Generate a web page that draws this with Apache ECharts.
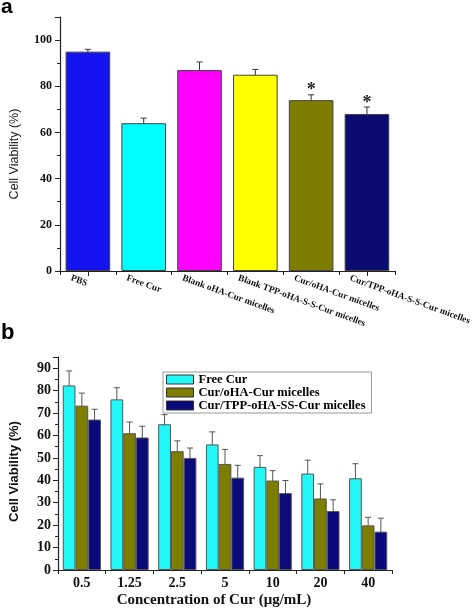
<!DOCTYPE html>
<html>
<head>
<meta charset="utf-8">
<script src="https://cdn.jsdelivr.net/npm/echarts@6/dist/echarts.min.js"></script>
<style>
html,body{margin:0;padding:0;background:#fff;}
#chart{width:472px;height:609px;}
</style>
</head>
<body>
<div id="chart"></div>
<script>
// ---- Panel a data ----
const catsA = ['PBS', 'Free Cur', 'Blank oHA-Cur micelles', 'Blank TPP-oHA-S-S-Cur micelles', 'Cur/oHA-Cur micelles', 'Cur/TPP-oHA-S-S-Cur micelles'];
const valsA = [95, 64, 87, 85, 74, 68];
const errA = [1.0, 2.2, 3.5, 2.3, 2.3, 3.0];
const sigA = ['', '', '', '', '*', '*'];
const ticksA = [0, 20, 40, 60, 80, 100];

// ---- Panel b data ----
const concB = ['0.5', '1.25', '2.5', '5', '10', '20', '40'];
const seriesNamesB = ['Free Cur', 'Cur/oHA-Cur micelles', 'Cur/TPP-oHA-SS-Cur micelles'];
const freeCur = [82.3, 76.1, 65.0, 56.0, 46.0, 43.0, 40.9];
const freeCurErr = [6.5, 5.2, 4.3, 5.6, 5.0, 6.0, 6.5];
const ohaCur = [73.3, 61.0, 53.0, 47.3, 39.9, 31.9, 19.9];
const ohaCurErr = [5.6, 5.0, 4.6, 6.5, 4.4, 6.5, 3.6];
const tppCur = [67.1, 59.1, 50.0, 41.2, 34.3, 26.3, 17.1];
const tppCurErr = [4.6, 5.0, 4.4, 5.5, 5.6, 5.0, 6.0];

// ---- styles ----
const paletteA = ['#1414f0', '#00ffff', '#ff00ff', '#ffff00', '#7d7d00', '#0a0a70'];
const paletteB = ['#22f8f8', '#7d7d00', '#0a0a7a'];
const SERIF = '"Liberation Serif", "Times New Roman", serif';
const SANS = '"Liberation Sans", Arial, sans-serif';

const chart = echarts.init(document.getElementById('chart'), null, {renderer: 'canvas'});

function errRender(k, nGroup, capW, color) {
  return function (params, api) {
    const i = api.value(0), m = api.value(1), e = api.value(2);
    const bw = api.size([1, 0])[0];
    const barW = bw * 0.8 / nGroup;
    const off = (k - (nGroup - 1) / 2) * barW;
    const c = api.coord([i, m]);
    const top = api.coord([i, m + e]);
    const bot = api.coord([i, m - e]);
    const x = c[0] + off;
    const st = {stroke: color, lineWidth: 1};
    const children = [
      {type: 'line', shape: {x1: x, y1: top[1], x2: x, y2: bot[1]}, style: st},
      {type: 'line', shape: {x1: x - capW / 2, y1: top[1], x2: x + capW / 2, y2: top[1]}, style: st},
      {type: 'line', shape: {x1: x - capW / 2, y1: bot[1], x2: x + capW / 2, y2: bot[1]}, style: st}
    ];
    return {type: 'group', children: children};
  };
}

const yAxisCommon = {
  type: 'value',
  splitLine: {show: false},
  axisLine: {show: true, lineStyle: {color: '#222', width: 1.2}},
  axisTick: {show: true, inside: false, length: 5, lineStyle: {color: '#222'}},
  minorTick: {show: true, splitNumber: 2, length: 3, lineStyle: {color: '#222'}},
  minorSplitLine: {show: false}
};

const option = {
  backgroundColor: '#fff',
  animation: false,
  title: [
    {text: 'a', left: -4, top: -8, textStyle: {fontFamily: SANS, fontWeight: 'bold', fontSize: 21, color: '#000'}},
    {text: 'b', left: -4, top: 317, textStyle: {fontFamily: SANS, fontWeight: 'bold', fontSize: 22, color: '#000'}}
  ],
  grid: [
    {left: 47, top: 17, width: 359, height: 254},
    {left: 48, top: 357, width: 344, height: 213}
  ],
  legend: {
    show: true,
    data: seriesNamesB,
    orient: 'vertical',
    left: 163,
    top: 372,
    itemWidth: 27,
    itemHeight: 9,
    itemGap: 0,
    padding: [1, 6, 1, 3],
    borderColor: '#999',
    borderWidth: 1,
    icon: 'rect',
    itemStyle: {borderColor: '#333', borderWidth: 1},
    textStyle: {fontFamily: SERIF, fontWeight: 'bold', fontSize: 12.5, lineHeight: 13, color: '#000'}
  },
  xAxis: [
    {
      gridIndex: 0, type: 'category', data: catsA,
      axisLine: {lineStyle: {color: '#222', width: 1.2}},
      axisTick: {show: true, alignWithLabel: false, length: 4, lineStyle: {color: '#222'}},
      axisLabel: {
        interval: 0, rotate: -20, margin: 13, fontFamily: SERIF, fontWeight: 'bold', fontSize: 9.3, color: '#111',
        padding: [0, 0, 0, -18]
      }
    },
    {
      gridIndex: 0, type: 'category', data: catsA, position: 'bottom',
      axisLine: {show: false},
      axisTick: {show: true, alignWithLabel: true, length: 5, lineStyle: {color: '#222'}},
      axisLabel: {show: false}
    },
    {
      gridIndex: 1, type: 'category', data: concB,
      name: 'Concentration of Cur (μg/mL)', nameLocation: 'middle', nameGap: 23,
      nameTextStyle: {fontFamily: SERIF, fontWeight: 'bold', fontSize: 15, color: '#111', padding: [0, 22, 0, 0]},
      axisLine: {lineStyle: {color: '#222', width: 1.2}},
      axisTick: {show: true, alignWithLabel: false, length: 4, lineStyle: {color: '#222'}},
      axisLabel: {interval: 0, margin: 6, fontFamily: SERIF, fontWeight: 'bold', fontSize: 14, color: '#111'}
    }
  ],
  yAxis: [
    Object.assign({}, yAxisCommon, {
      gridIndex: 0, min: 0, max: 110, interval: 20,
      name: 'Cell Viability (%)', nameLocation: 'middle', nameGap: 39, nameRotate: 90,
      nameTextStyle: {fontFamily: SANS, fontSize: 12.5, color: '#222', padding: [0, 20, 0, 0]},
      axisLabel: {showMaxLabel: false, margin: 8, fontFamily: SERIF, fontWeight: 'bold', fontSize: 12, color: '#111',
        formatter: function (v) { return ticksA.indexOf(v) >= 0 ? String(v) : ''; }}
    }),
    Object.assign({}, yAxisCommon, {
      gridIndex: 1, min: 0, max: 95, interval: 10,
      name: 'Cell Viability (%)', nameLocation: 'middle', nameGap: 37, nameRotate: 90,
      nameTextStyle: {fontFamily: SANS, fontWeight: 'bold', fontSize: 13, color: '#111', padding: [0, 16, 0, 0]},
      axisLabel: {showMaxLabel: false, margin: 7, fontFamily: SERIF, fontWeight: 'bold', fontSize: 14, color: '#111'}
    })
  ],
  series: [
    {
      type: 'bar', xAxisIndex: 0, yAxisIndex: 0, barCategoryGap: '20%',
      data: valsA.map(function (v, i) { return {value: v, itemStyle: {color: paletteA[i]}}; }),
      itemStyle: {borderColor: '#444', borderWidth: 1}
    },
    {
      type: 'custom', xAxisIndex: 0, yAxisIndex: 0, silent: true,
      data: valsA.map(function (v, i) { return [i, v, errA[i]]; }),
      renderItem: function (params, api) {
        const g = errRender(0, 1, 6, '#333')(params, api);
        const i = api.value(0), m = api.value(1), e = api.value(2);
        const s = sigA[i];
        if (s) {
          const top = api.coord([i, m + e]);
          g.children.push({type: 'text', style: {text: s, x: top[0], y: top[1] - 4, align: 'center', verticalAlign: 'middle',
            font: 'bold 18px ' + SERIF, fill: '#222'}});
        }
        return g;
      }
    },
    {
      name: seriesNamesB[0], type: 'bar', xAxisIndex: 2, yAxisIndex: 1, barCategoryGap: '20%', barGap: '0%',
      data: freeCur, itemStyle: {color: paletteB[0], borderColor: '#555', borderWidth: 1}
    },
    {
      name: seriesNamesB[1], type: 'bar', xAxisIndex: 2, yAxisIndex: 1, barCategoryGap: '20%', barGap: '0%',
      data: ohaCur, itemStyle: {color: paletteB[1], borderColor: '#555', borderWidth: 1}
    },
    {
      name: seriesNamesB[2], type: 'bar', xAxisIndex: 2, yAxisIndex: 1, barCategoryGap: '20%', barGap: '0%',
      data: tppCur, itemStyle: {color: paletteB[2], borderColor: '#555', borderWidth: 1}
    },
    {
      type: 'custom', xAxisIndex: 2, yAxisIndex: 1, silent: true,
      data: freeCur.map(function (v, i) { return [i, v, freeCurErr[i]]; }),
      renderItem: errRender(0, 3, 6, '#555')
    },
    {
      type: 'custom', xAxisIndex: 2, yAxisIndex: 1, silent: true,
      data: ohaCur.map(function (v, i) { return [i, v, ohaCurErr[i]]; }),
      renderItem: errRender(1, 3, 6, '#555')
    },
    {
      type: 'custom', xAxisIndex: 2, yAxisIndex: 1, silent: true,
      data: tppCur.map(function (v, i) { return [i, v, tppCurErr[i]]; }),
      renderItem: errRender(2, 3, 6, '#555')
    }
  ]
};
chart.setOption(option);
</script>
</body>
</html>
